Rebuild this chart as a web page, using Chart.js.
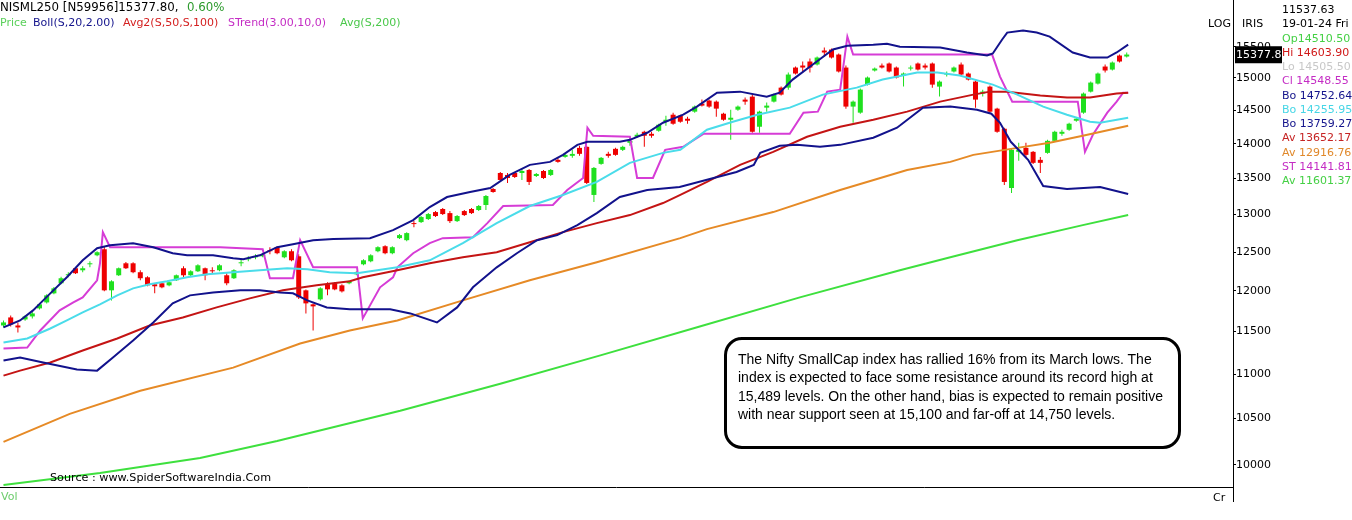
<!DOCTYPE html>
<html>
<head>
<meta charset="utf-8">
<script src="https://cdn.jsdelivr.net/npm/chart.js@4.4.1/dist/chart.umd.min.js"></script>
<style>
  html, body { margin: 0; padding: 0; background: #fff; }
  #wrap { position: relative; width: 1352px; height: 520px; overflow: hidden; font-family: "DejaVu Sans", sans-serif; }
  #chart { position: absolute; left: 0; top: 0; }
  .lbl { position: absolute; white-space: nowrap; font-size: 11px; line-height: 13px; }
  #note {
    position: absolute; left: 724px; top: 337px; width: 440px; height: 96px;
    border: 3px solid #000; border-radius: 18px; padding: 10px 0 0 11px;
    font-family: "Liberation Sans", sans-serif; font-size: 14px; line-height: 18.3px; color: #000;
    white-space: nowrap;
  }
</style>
</head>
<body>
<div id="wrap">
  <canvas id="chart" width="1352" height="520"></canvas>
  <div id="legend"></div>
  <div id="info"></div>
  <div class="lbl" style="left:50px; top:471px; font-size:11.2px;">Source : www.SpiderSoftwareIndia.Com</div>
  <div id="note">The Nifty SmallCap index has rallied 16% from its March lows. The<br>index is expected to face some resistance around its record high at<br>15,489 levels. On the other hand, bias is expected to remain positive<br>with near support seen at 15,100 and far-off at 14,750 levels.</div>
</div>
<script>
// daily candles, index 0 = first session shown
const opens = [11574,11672,11574,11647,11684,11783,11857,11970,12097,12199,12289,12263,12340,12457,12536,12008,12199,12353,12353,12238,
  12173,12084,12097,12071,12135,12289,12199,12250,12289,12263,12263,12199,12161,12353,12405,12431,12444,12523,12563,12431,
  12510,12444,12008,11833,11895,12084,12097,12071,12097,12212,12340,12379,12510,12576,12484,12683,12656,12884,12898,12939,
  13034,13076,13020,12911,13048,13076,13062,13131,13353,13579,13551,13579,13579,13622,13536,13607,13551,13767,13810,13825,
  13941,13956,13270,13709,13854,13927,13912,14015,14104,14178,14148,14193,14328,14434,14419,14373,14480,14603,14649,14633,
  14449,14358,14510,14664,14710,14253,14541,14633,14849,14849,15165,15197,15261,15213,15438,15454,15373,15165,14557,14465,
  14896,15118,15197,15229,15165,15038,15149,15229,15197,15229,14865,15054,15102,15213,15070,14943,14757,14865,14526,14223,
  13367,13883,13941,13883,13767,13868,14044,14148,14208,14343,14465,14787,14912,15181,15133,15357,15341];
const highs = [11635,11696,11611,11700,11746,11850,11960,12050,12180,12238,12300,12315,12379,12510,12576,12135,12300,12370,12365,12263,
  12185,12097,12105,12120,12210,12315,12263,12340,12300,12302,12340,12225,12275,12405,12444,12470,12484,12563,12576,12523,
  12536,12470,12020,11845,12046,12110,12110,12084,12135,12250,12405,12470,12576,12590,12576,12737,12763,12911,12980,13020,
  13048,13090,13048,12993,13062,13090,13131,13270,13367,13593,13579,13593,13636,13636,13579,13622,13636,13796,13853,13912,
  13971,13971,13665,13810,13883,13941,13971,14089,14163,14193,14178,14298,14419,14465,14434,14404,14572,14664,14664,14649,
  14465,14510,14572,14695,14741,14495,14618,14757,14865,15086,15181,15261,15309,15341,15487,15470,15390,15197,14649,14834,
  15022,15165,15229,15245,15181,15086,15197,15245,15229,15245,14959,15102,15181,15245,15086,14959,14818,14881,14541,14238,
  13927,14015,14015,13897,13810,14059,14193,14208,14313,14388,14772,14943,15086,15213,15261,15373,15406];
const lows = [11550,11562,11489,11630,11660,11770,11845,11960,12085,12173,12215,12238,12302,12445,11995,11882,12190,12280,12225,12135,
  12060,11970,12035,12060,12125,12173,12185,12240,12135,12225,12250,12071,12150,12315,12379,12405,12431,12470,12470,12418,
  12380,11900,11721,11513,11882,11945,12008,11982,12084,12199,12327,12366,12497,12470,12470,12670,12643,12830,12884,12925,
  12966,12993,12884,12898,12980,13007,13048,13062,13300,13466,13438,13508,13480,13410,13522,13494,13536,13724,13796,13796,
  13825,13424,13172,13695,13796,13825,13897,13971,14089,13956,14089,14178,14268,14283,14313,14298,14465,14557,14541,14404,
  14343,14059,14495,14587,14163,14163,14480,14618,14726,14818,15054,15086,15086,15197,15341,15309,15086,14526,14313,14450,
  14881,15102,15149,15086,14990,14865,15118,15118,15133,14849,14711,15022,15086,15038,14959,14541,14711,14465,14163,13410,
  13297,13753,13810,13709,13579,13854,14030,14119,14193,14328,14450,14772,14896,15086,15118,15245,15325];
const closes = [11611,11586,11550,11684,11721,11833,11945,12033,12161,12212,12225,12289,12353,12497,12008,12122,12289,12289,12238,12161,
  12071,12059,12046,12110,12199,12199,12250,12327,12199,12250,12327,12097,12263,12366,12418,12444,12470,12510,12484,12510,
  12392,11920,11845,11808,12033,12020,12020,11995,12122,12238,12392,12457,12563,12484,12563,12723,12750,12871,12966,13007,
  12980,13007,12911,12980,12993,13020,13117,13255,13311,13480,13508,13522,13607,13452,13565,13508,13622,13738,13839,13853,
  13854,13438,13651,13796,13825,13839,13956,14044,14134,14119,14119,14283,14358,14298,14328,14343,14557,14572,14557,14526,
  14358,14388,14557,14633,14178,14480,14572,14741,14741,15054,15070,15165,15165,15325,15406,15325,15102,14557,14633,14818,
  15007,15149,15165,15102,15007,15070,15165,15133,15165,14896,14943,15070,15165,15054,14975,14664,14787,14480,14178,13452,
  13912,13912,13839,13724,13724,14044,14178,14178,14298,14373,14757,14928,15070,15118,15245,15261,15373];

// overlays: [session index, value]
const bollUpper = [[0,11550],[2.3,11635],[4.1,11758],[6.5,11970],[8.8,12173],[11,12392],[13,12550],[14.8,12590],[18,12616],
  [20.8,12563],[23.5,12484],[25.5,12457],[29.1,12457],[31.9,12418],[33.3,12405],[35.6,12457],[38,12563],[40.2,12603],[43,12656],
  [45.8,12670],[50.9,12683],[54.1,12790],[56.9,12925],[59.2,13103],[61.6,13241],[64.8,13311],[67.6,13367],[70.3,13551],
  [73.1,13695],[75.9,13738],[77.7,13839],[79.7,13985],[81.1,14030],[85.6,14030],[87,14059],[89.4,14163],[91.6,14313],
  [94.4,14434],[96.3,14557],[99.1,14771],[102.3,14787],[106,14710],[107.8,14771],[109.6,14975],[112.4,15213],[115.2,15454],
  [117.2,15516],[120.8,15533],[122.7,15549],[124.5,15500],[130.1,15486],[133.8,15406],[136.6,15357],[137.4,15390],
  [138.7,15617],[139.4,15731],[141.6,15764],[143.5,15731],[145.3,15665],[148.5,15406],[150.9,15325],[153.3,15325],
  [154.6,15406],[156.2,15533]];
const bollMid = [[0,11369],[3.3,11417],[6.5,11537],[8.8,11635],[11,11733],[13.4,11833],[15.8,11945],[18,12033],[20.3,12084],
  [22.7,12122],[25.5,12173],[28.3,12212],[31.9,12238],[35.6,12263],[39.4,12289],[42.2,12276],[45.3,12238],[49.1,12225],
  [54.7,12302],[59.2,12392],[63.8,12616],[68.5,12884],[73.1,13117],[77.7,13270],[82.4,13452],[87,13724],[91.6,13868],
  [94,13912],[97.7,14208],[101.3,14328],[104.7,14434],[109.2,14541],[113.8,14741],[118.5,14849],[122.1,14975],[126.9,15086],
  [129.7,15086],[132.8,15038],[137.4,14896],[140.8,14741],[144.4,14557],[147.7,14434],[150.9,14328],[152.3,14313],[156.2,14388]];
const bollLower = [[0,11156],[2.3,11192],[5.5,11133],[10.2,11051],[13,11039],[15.2,11192],[18,11393],[20.8,11611],[23.5,11845],
  [25.9,11945],[29.1,11982],[32.9,12008],[35.6,12008],[38.4,11982],[40.2,11970],[42.2,11882],[44.9,11795],[48.1,11771],
  [53.7,11771],[56.5,11721],[60.2,11610],[63,11795],[65.2,12046],[68.5,12301],[71.3,12484],[74.1,12656],[76.9,12723],
  [79.7,12857],[82.4,13020],[85.6,13241],[89.4,13339],[93.9,13380],[98.1,13494],[101.8,13593],[104.2,13695],[105.1,13868],
  [107.8,13971],[110.2,13985],[113.4,13956],[116.2,13985],[120.8,14089],[124.1,14238],[127.7,14541],[131.5,14557],
  [135.2,14510],[137.2,14449],[138.4,14313],[139.9,14030],[142.3,13767],[144.4,13395],[147.7,13353],[152.3,13380],[156.2,13283]];
const avg50 = [[0,10981],[2.3,11039],[6.5,11133],[11,11274],[15.8,11417],[20.3,11574],[24.9,11672],[29.6,11795],[34.2,11907],
  [38.8,12008],[43.5,12071],[48.1,12122],[49.9,12173],[54.7,12263],[59.2,12353],[63.8,12431],[68.5,12497],[73.1,12629],
  [77.7,12763],[82.4,12884],[87,12993],[91.6,13158],[94,13270],[97.7,13452],[102.3,13695],[106.9,13883],[111.6,14104],
  [116.2,14253],[120.8,14358],[125.5,14480],[130.1,14633],[134.7,14741],[137,14787],[139.4,14787],[144,14726],[147.7,14695],
  [150.9,14695],[154.6,14757],[156.2,14771]];
const avg100 = [[0,10245],[9.2,10550],[19,10809],[31.9,11074],[41.2,11357],[48.1,11513],[54.7,11635],[63.8,11882],[73.1,12135],
  [82.4,12366],[94,12683],[97.7,12803],[106.9,13034],[116.2,13339],[125.5,13622],[131.5,13738],[134.7,13839],[140.8,13941],
  [145.3,14015],[149.9,14119],[156.2,14268]];
const superTrend = [[0,11298],[3.3,11310],[5.1,11513],[7.8,11758],[9.7,11857],[11,11920],[13,12135],[13.4,12353],[13.8,12763],
  [14.8,12563],[30.1,12563],[36,12536],[37,12161],[40.2,12161],[41.2,12656],[43,12302],[49.1,12302],[49.9,11660],[52.3,12046],
  [54.1,12173],[54.7,12302],[56.9,12484],[59.2,12616],[61,12683],[65.2,12696],[67.2,12884],[69.4,13117],[76.3,13131],
  [78.3,13339],[80.5,13508],[81.1,14238],[81.9,14119],[87,14104],[88,13508],[90.2,13508],[91.9,13912],[94.4,13956],
  [97.2,14148],[109.2,14148],[111.1,14465],[113.1,14480],[114.4,14787],[116.2,14818],[117.2,15664],[118,15373],[137.3,15373],
  [138.4,15022],[140.1,14633],[149.2,14633],[150.2,13883],[151.3,14134],[153.3,14465],[154.6,14633],[155.5,14771],[156.2,14771]];
const avg200 = [[0,9792],[13.4,9916],[27.3,10074],[38,10255],[55.1,10584],[69,10889],[82.9,11217],[96.7,11562],[110.6,11920],
  [124.5,12263],[131.5,12431],[140.8,12656],[149.9,12857],[156.2,12993]];

const yTicks = [10000,10500,11000,11500,12000,12500,13000,13500,14000,14500,15000,15500];
const lastClose = 15377.80;
const changePct = "0.60%";

const infoTags = ["", "", "Op", "Hi ", "Lo ", "Cl ", "Bo ", "Bo ", "Bo ", "Av ", "Av ", "ST ", "Av "];
const infoValues = ["11537.63", "19-01-24 Fri", "14510.50", "14603.90", "14505.50", "14548.55", "14752.64", "14255.95",
  "13759.27", "13652.17", "12916.76", "14141.81", "11601.37"];
const infoColors = ["#000", "#000", "#44d044", "#d01818", "#c8c8c8", "#c42cc4", "#14148c", "#46d6e6", "#14148c",
  "#c62424", "#e0882a", "#c42cc4", "#44d044"];

const legendParts = [
  ["NISML250 [N59956]" + lastClose.toFixed(2) + ",", "#000", 0, 1, 11.8],
  [changePct, "#2c9a2c", 187, 1, 11.8],
  ["Price", "#5ad05a", 0, 16, 11],
  ["Boll(S,20,2.00)", "#14148c", 33, 16, 11],
  ["Avg2(S,50,S,100)", "#d42020", 123, 16, 11],
  ["STrend(3.00,10,0)", "#c42cc4", 228, 16, 11],
  ["Avg(S,200)", "#4ac84a", 340, 16, 11],
];

const UP = "#1fe01f";
const DOWN = "#ee0000";

const legendEl = document.getElementById("legend");
legendEl.innerHTML = legendParts
  .map(([t, c, x, y, fs]) => `<div class="lbl" style="left:${x}px;top:${y}px;color:${c};font-size:${fs}px">${t}</div>`)
  .join("");

const infoEl = document.getElementById("info");
infoEl.innerHTML = infoValues
  .map((v, k) => `<div class="lbl" style="left:1282px;top:${3 + k * 14.25}px;color:${infoColors[k]}">${infoTags[k]}${v}</div>`)
  .join("");

function pts(pairs) {
  return pairs.map(([x, y]) => ({ x, y }));
}

function lineSet(label, pairs, color) {
  return {
    type: "line",
    label,
    data: pts(pairs),
    borderColor: color,
    borderWidth: 2,
    pointRadius: 0,
    tension: 0,
    fill: false,
    order: 0,
  };
}

const candleColors = opens.map((o, i) => (closes[i] >= o ? UP : DOWN));

const extras = {
  id: "extras",
  afterDraw(chart) {
    const ctx = chart.ctx;
    const area = chart.chartArea;
    const y = chart.scales.y;
    ctx.save();
    ctx.strokeStyle = "#000";
    ctx.lineWidth = 1;
    ctx.beginPath();
    ctx.moveTo(0, area.bottom + 0.5);
    ctx.lineTo(area.right, area.bottom + 0.5);
    ctx.moveTo(area.right + 0.5, area.bottom);
    ctx.lineTo(area.right + 0.5, 502);
    ctx.stroke();

    ctx.font = "11px 'DejaVu Sans'";
    ctx.textBaseline = "middle";
    ctx.fillStyle = "#000";
    ctx.fillText("LOG", 1208, 24);
    ctx.fillText("IRIS", 1242, 24);
    ctx.fillText("Cr", 1213, 498);
    ctx.fillStyle = "#6ccc6c";
    ctx.fillText("Vol", 1, 497);

    const py = y.getPixelForValue(lastClose);
    ctx.fillStyle = "#000";
    ctx.fillRect(area.right + 2, py - 8, 47, 17);
    ctx.beginPath();
    ctx.rect(area.right + 2, py - 8, 47, 17);
    ctx.clip();
    ctx.fillStyle = "#fff";
    ctx.fillText(lastClose.toFixed(2), area.right + 3, py + 1);
    ctx.restore();
  },
};

new Chart(document.getElementById("chart"), {
  type: "bar",
  data: {
    datasets: [
      lineSet("Boll upper", bollUpper, "#12128c"),
      lineSet("Boll mid", bollMid, "#4adcea"),
      lineSet("Boll lower", bollLower, "#12128c"),
      lineSet("Avg 50", avg50, "#c41414"),
      lineSet("Avg 100", avg100, "#e68a26"),
      lineSet("STrend", superTrend, "#d63cd6"),
      lineSet("Avg 200", avg200, "#3ee03e"),
      {
        type: "bar",
        label: "body",
        data: opens.map((o, i) => ({ x: i, y: [o, closes[i]] })),
        backgroundColor: candleColors,
        grouped: false,
        maxBarThickness: 5,
        minBarLength: 1,
        order: 1,
      },
      {
        type: "bar",
        label: "wick",
        data: lows.map((l, i) => ({ x: i, y: [l, highs[i]] })),
        backgroundColor: candleColors,
        grouped: false,
        maxBarThickness: 1,
        order: 2,
      },
    ],
  },
  options: {
    responsive: false,
    animation: false,
    devicePixelRatio: 1,
    layout: { padding: { top: 0, bottom: 33, left: 0, right: 0 } },
    plugins: { legend: { display: false }, tooltip: { enabled: false } },
    scales: {
      x: { type: "linear", min: -0.486, max: 170.76, offset: false, display: false },
      y: {
        type: "logarithmic",
        position: "right",
        min: 9772,
        max: 16277,
        afterBuildTicks: (scale) => {
          scale.ticks = yTicks.map((v) => ({ value: v }));
        },
        afterFit: (scale) => {
          scale.width = 119;
          scale.paddingTop = 0;
          scale.paddingBottom = 0;
        },
        ticks: {
          color: "#000",
          padding: 0,
          font: { family: "DejaVu Sans", size: 11 },
          callback: (v) => String(v),
        },
        grid: { drawOnChartArea: false, drawTicks: true, tickLength: 3, color: "#000" },
        border: { display: true, color: "#000", width: 1 },
      },
    },
  },
  plugins: [extras],
});
</script>
</body>
</html>
